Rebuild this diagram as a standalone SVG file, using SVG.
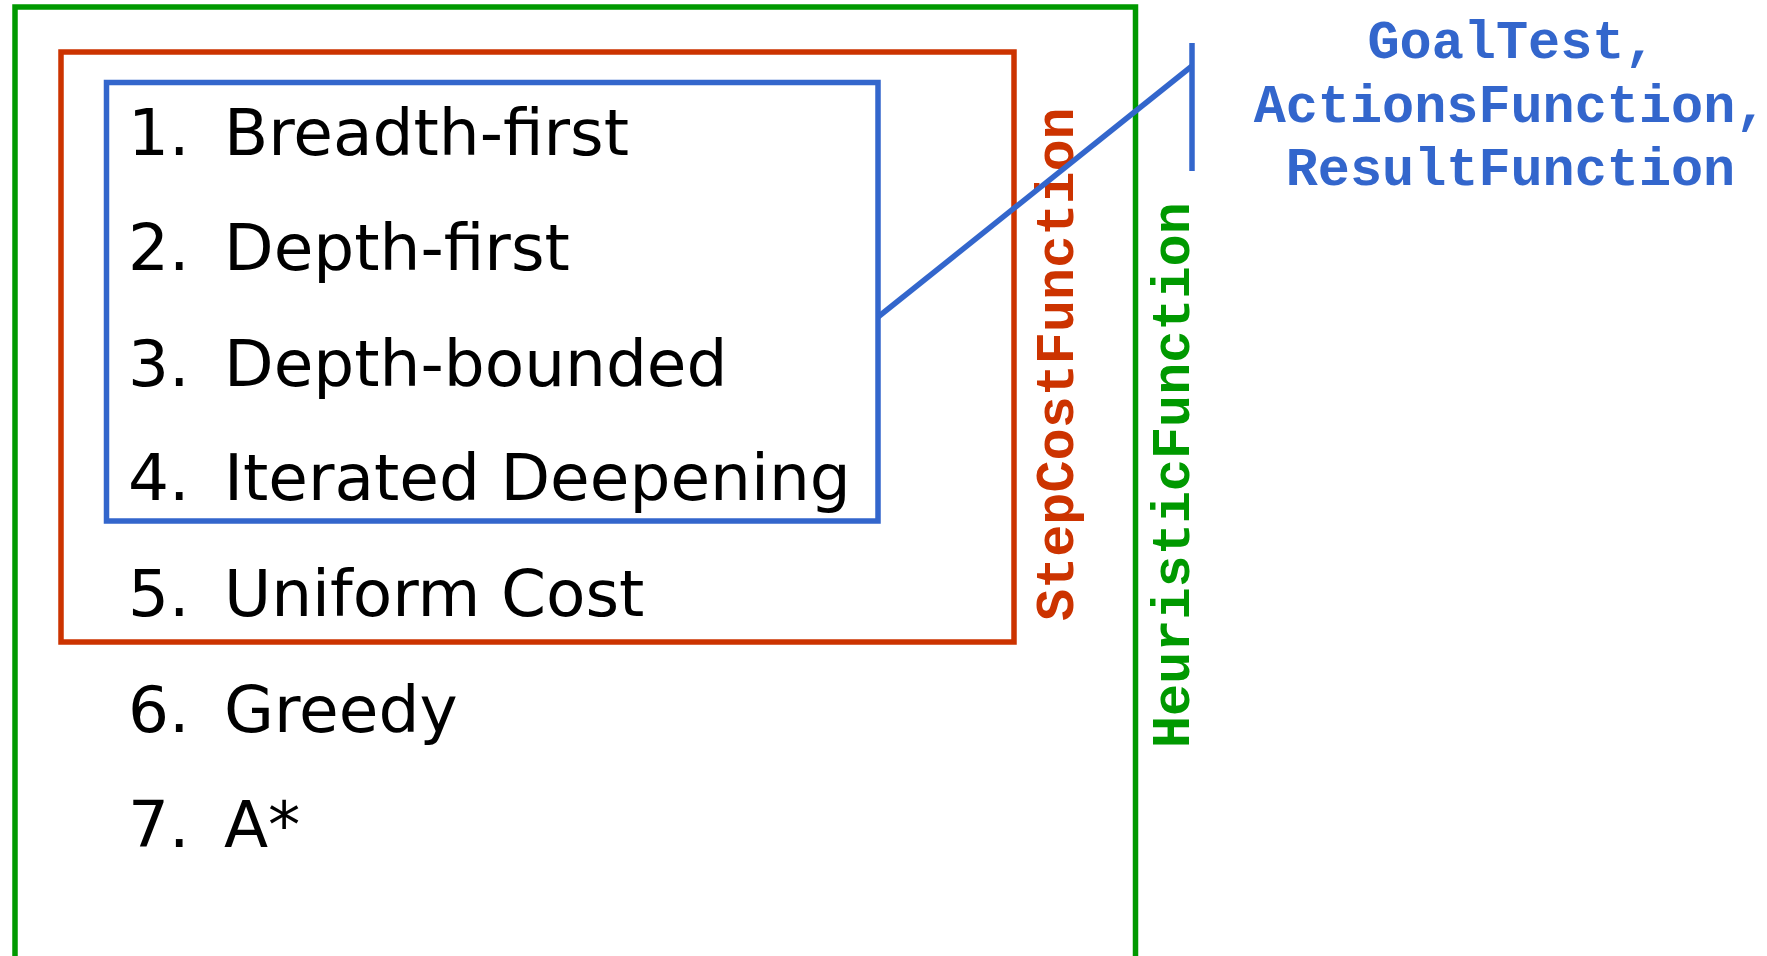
<svg xmlns="http://www.w3.org/2000/svg" width="1767" height="956" viewBox="0 0 1767 956">
<style>
.box{fill:none;stroke-width:5.5}
.item{font-family:"DejaVu Sans","Verdana",sans-serif;font-size:64.5px;fill:#000}
.code{font-family:"Courier New","Liberation Mono",monospace;font-weight:bold;font-size:53.5px}
</style>
<rect width="1767" height="956" fill="#fff"/>
<g id="heuristic">
<rect class="box" x="15" y="7" width="1120.5" height="970" stroke="#009900"/>
<text class="code" fill="#009900" transform="translate(1189,748) rotate(-90)">HeuristicFunction</text>
</g>
<g id="stepcost">
<rect class="box" x="61" y="52" width="953" height="590" stroke="#cc3300"/>
<text class="code" fill="#cc3300" transform="translate(1073,621) rotate(-90)">StepCostFunction</text>
</g>
<g id="uninformed">
<rect class="box" x="106.5" y="82.5" width="771.5" height="438.5" stroke="#3366cc"/>
</g>
<g id="list">
<text class="item" y="155"><tspan x="128">1.</tspan><tspan x="224">Breadth-first</tspan></text>
<text class="item" y="270.3"><tspan x="128">2.</tspan><tspan x="224">Depth-first</tspan></text>
<text class="item" y="385.6"><tspan x="128">3.</tspan><tspan x="224">Depth-bounded</tspan></text>
<text class="item" y="500"><tspan x="128">4.</tspan><tspan x="224">Iterated Deepening</tspan></text>
<text class="item" y="616"><tspan x="128">5.</tspan><tspan x="224">Uniform Cost</tspan></text>
<text class="item" y="731.5"><tspan x="128">6.</tspan><tspan x="224">Greedy</tspan></text>
<text class="item" y="847"><tspan x="128">7.</tspan><tspan x="224">A*</tspan></text>
</g>
<g id="connectors" stroke="#3366cc" stroke-width="5.5" fill="none">
<line x1="878" y1="317" x2="1192" y2="66"/>
<line x1="1192" y1="43" x2="1192" y2="171"/>
</g>
<g id="problem">
<text class="code" fill="#3366cc" text-anchor="middle" x="1512" y="58">GoalTest,</text>
<text class="code" fill="#3366cc" text-anchor="middle" x="1510.5" y="121.5">ActionsFunction,</text>
<text class="code" fill="#3366cc" text-anchor="middle" x="1510.5" y="185">ResultFunction</text>
</g>
</svg>
